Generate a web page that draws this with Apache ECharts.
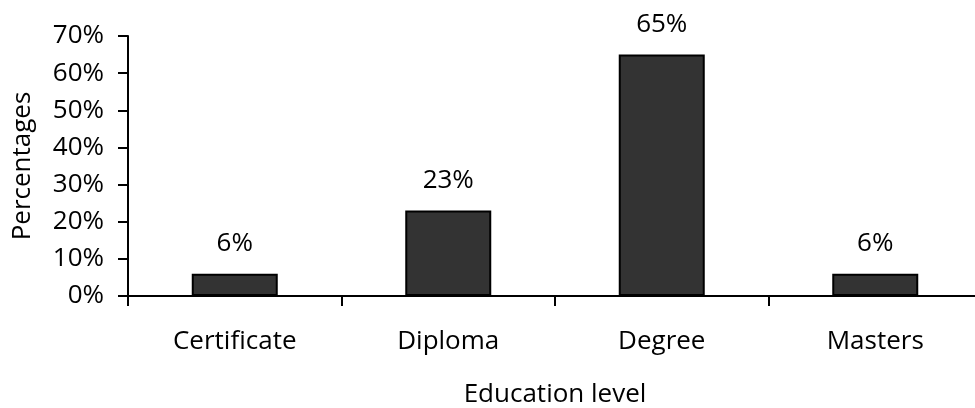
<!DOCTYPE html>
<html><head><meta charset="utf-8">
<script src="https://cdn.jsdelivr.net/npm/echarts@6/dist/echarts.min.js"></script>
<style>html,body{margin:0;padding:0;background:#fff;overflow:hidden}#c{width:975px;height:408px}</style>
</head><body><div id="c"></div>
<script>
const categories = ['Certificate', 'Diploma', 'Degree', 'Masters'];
const values = [6, 23, 65, 6];
const yTicks = [0, 10, 20, 30, 40, 50, 60, 70];
const FONT = 'Open Sans';
const FS = 26;
const chart = echarts.init(document.getElementById('c'));
chart.setOption({
  animation: false,
  grid: { left: 128, width: 854, top: 36, height: 260, containLabel: false, outerBoundsMode: 'none' },
  xAxis: {
    type: 'category', data: categories,
    name: 'Education level', nameLocation: 'middle', nameGap: 86,
    nameTextStyle: { fontFamily: FONT, fontSize: FS, color: '#000' },
    axisLine: { lineStyle: { color: '#000', width: 2 } },
    axisTick: { show: true, length: 10, lineStyle: { color: '#000', width: 2 } },
    axisLabel: { fontFamily: FONT, fontSize: FS, color: '#000', margin: 33 }
  },
  yAxis: {
    type: 'value', min: yTicks[0], max: yTicks[yTicks.length - 1], interval: 10,
    name: 'Percentages', nameLocation: 'middle', nameGap: 92, nameRotate: 90,
    nameTextStyle: { fontFamily: FONT, fontSize: FS, color: '#000' },
    axisLine: { show: true, lineStyle: { color: '#000', width: 2 } },
    axisTick: { show: true, length: 10, lineStyle: { color: '#000', width: 2 } },
    splitLine: { show: false },
    axisLabel: { fontFamily: FONT, fontSize: FS, color: '#000', margin: 24, formatter: v => v + '%' }
  },
  series: [{
    type: 'bar', data: values, barWidth: 86,
    itemStyle: { color: '#333333', borderColor: '#000', borderWidth: 2 },
    label: { show: true, position: 'top', distance: 17, fontFamily: FONT, fontSize: FS, color: '#000', formatter: p => p.value + '%' }
  }]
});
</script></body></html>
